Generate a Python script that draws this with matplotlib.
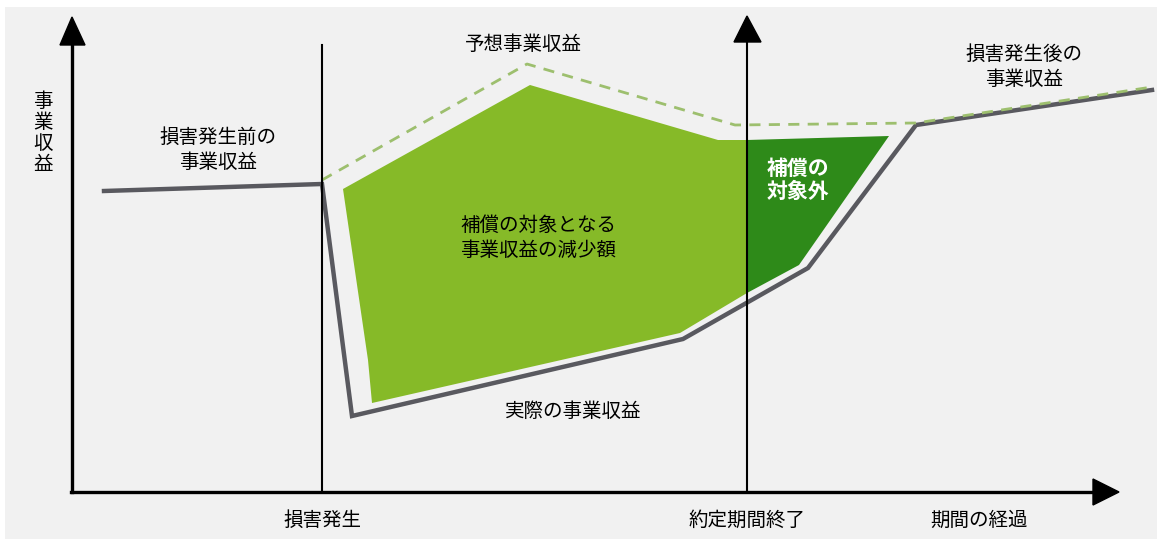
"""Business-interruption diagram: 補償の対象となる事業収益の減少額."""
import matplotlib
matplotlib.use("Agg")
import matplotlib.pyplot as plt
import matplotlib.patches as mpatches

plt.rcParams["font.family"] = ["Noto Sans CJK JP", "DejaVu Sans"]

# ── Data (pixel-like units: x = time, y = revenue, y axis inverted) ──────────
actual_x = [104, 322, 352, 683, 808, 916, 1152]
actual_y = [191, 184, 416, 339, 268, 125, 90]

expected_x = [322, 527, 735, 916, 1152]
expected_y = [180, 64, 125, 123, 87]

covered_x = [343, 530, 718, 747, 747, 680, 372, 368]
covered_y = [189, 85, 140, 140, 293, 333, 403, 360]

excluded_x = [747, 889, 799, 747]
excluded_y = [140, 136, 265, 293]

event_x = 322        # 損害発生
contract_end_x = 747  # 約定期間終了

# ── Styles ───────────────────────────────────────────────────────────────────
BG = "#f1f1f1"
LIGHT_GREEN = "#86ba28"
DARK_GREEN = "#2e8a19"
GRAY = "#59595f"
DASH = "#9dbf6e"
FS = 14

fig = plt.figure(figsize=(11.57, 5.39), dpi=100)
ax = fig.add_axes([0, 0, 1, 1])
ax.set_xlim(0, 1157)
ax.set_ylim(539, 0)
ax.axis("off")
ax.add_patch(mpatches.Rectangle((5, 7), 1152, 532, facecolor=BG, edgecolor="none"))

# areas
ax.fill(covered_x, covered_y, color=LIGHT_GREEN, lw=0, zorder=2)
ax.fill(excluded_x, excluded_y, color=DARK_GREEN, lw=0, zorder=2)

# revenue lines
ax.plot(actual_x, actual_y, color=GRAY, lw=3.2, solid_joinstyle="miter", zorder=3)
ax.plot(expected_x, expected_y, color=DASH, lw=2, dashes=(4, 3), zorder=4)

# axes + arrows
ax.plot([72, 72], [492, 44], color="black", lw=2.4, zorder=5)
ax.plot([71, 1095], [492, 492], color="black", lw=2.4, zorder=5)
ax.add_patch(mpatches.Polygon([[72, 17], [60, 45], [85, 45]], color="black", zorder=5))
ax.add_patch(mpatches.Polygon([[1119, 492], [1093, 479], [1093, 505]], color="black", zorder=5))

ax.plot([event_x, event_x], [45, 492], color="black", lw=1.5, zorder=5)
ax.plot([contract_end_x, contract_end_x], [40, 492], color="black", lw=1.5, zorder=5)
ax.add_patch(mpatches.Polygon([[contract_end_x, 16], [734, 42], [761, 42]],
                              color="black", zorder=5))

# labels
ax.text(43, 133, "事\n業\n収\n益", ha="center", va="center", fontsize=FS,
        linespacing=1.0)
ax.text(218, 150, "損害発生前の\n事業収益", ha="center", va="center", fontsize=FS,
        linespacing=1.2)
ax.text(523, 45, "予想事業収益", ha="center", va="center", fontsize=FS)
ax.text(1024, 67, "損害発生後の\n事業収益", ha="center", va="center", fontsize=FS,
        linespacing=1.2)
ax.text(538, 238, "補償の対象となる\n事業収益の減少額", ha="center", va="center",
        fontsize=FS, linespacing=1.2, zorder=6)
ax.text(767, 180, "補償の\n対象外", ha="left", va="center", fontsize=15,
        color="white", fontweight="bold", linespacing=1.15, zorder=6)
ax.text(573, 411, "実際の事業収益", ha="center", va="center", fontsize=FS)
ax.text(event_x, 520, "損害発生", ha="center", va="center", fontsize=FS)
ax.text(contract_end_x, 520, "約定期間終了", ha="center", va="center", fontsize=FS)
ax.text(979, 520, "期間の経過", ha="center", va="center", fontsize=FS)

fig.savefig("out.png", dpi=100, facecolor="white")
